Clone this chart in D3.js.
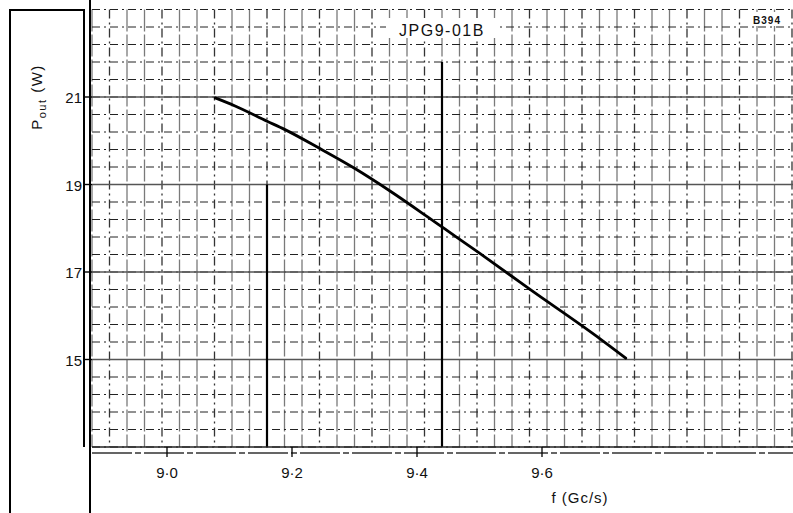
<!DOCTYPE html>
<html>
<head>
<meta charset="utf-8">
<script src="https://cdnjs.cloudflare.com/ajax/libs/d3/7.8.5/d3.min.js"></script>
<style>
  html, body { margin: 0; padding: 0; background: #fff; }
  svg { display: block; }
  text { font-family: "Liberation Sans", "DejaVu Sans", sans-serif; fill: #111; }
</style>
</head>
<body>
<svg id="chart" width="793" height="513"></svg>
<script>
// ---- data ----
const freqGHz = [9.077, 9.108, 9.161, 9.188, 9.246, 9.300, 9.358, 9.417, 9.444, 9.500, 9.550, 9.582, 9.662, 9.694, 9.734];
const poutW   = [20.98, 20.80, 20.44, 20.26, 19.81, 19.37, 18.84, 18.26, 17.99, 17.43, 16.92, 16.59, 15.79, 15.46, 15.03];
const xTicks = [9.0, 9.2, 9.4, 9.6];
const xTickLabels = ["9·0", "9·2", "9·4", "9·6"];
const yTicks = [15, 17, 19, 21];
const yTickLabels = ["15", "17", "19", "21"];
const titleText = "JPG9-01B";
const codeText = "B394";
const xTitle = "f (Gc/s)";

// ---- scales ----
const svg = d3.select("#chart");
const x = d3.scaleLinear().domain([9.0, 9.6]).range([167, 542]);
const y = d3.scaleLinear().domain([13, 23]).range([447, 9.5]);
// graph-paper grid: its own cell units (cell = 17.5 px), independent of the frequency scale
const g = d3.scaleLinear().domain([0, 40]).range([92, 792]);
const xRight = 793;

const grid = svg.append("g");
const vCells = d3.range(0, 41);
grid.selectAll("line.v").data(vCells).join("line")
  .attr("x1", d => g(d)).attr("x2", d => g(d))
  .attr("y1", y(23)).attr("y2", y(13))
  .attr("stroke", d => d % 3 === 1 ? "#333" : "#7a7a7a")
  .attr("stroke-width", 1.3)
  .attr("stroke-dasharray", d => d % 3 === 1 ? "9,4,2,4" : "22,3");

// horizontal fine grid every 0.4 W
const hLines = d3.range(0, 26).map(i => +(13 + i * 0.4).toFixed(2));
grid.selectAll("line.h").data(hLines).join("line")
  .attr("x1", g(0)).attr("x2", xRight)
  .attr("y1", d => y(d)).attr("y2", d => y(d))
  .attr("stroke", "#222")
  .attr("stroke-width", 1)
  .attr("stroke-dasharray", "8,4,2,4");

// major horizontal lines at labelled values
grid.selectAll("line.hm").data(yTicks).join("line")
  .attr("x1", g(0)).attr("x2", xRight)
  .attr("y1", d => y(d)).attr("y2", d => y(d))
  .attr("stroke", "#555").attr("stroke-width", 1.6);

// heavy vertical lines (grid cell index, top value in W)
const heavy = [[10, 19.0], [20, 21.8]];
grid.selectAll("line.hv").data(heavy).join("line")
  .attr("x1", d => g(d[0])).attr("x2", d => g(d[0]))
  .attr("y1", d => y(d[1])).attr("y2", y(13))
  .attr("stroke", "#000").attr("stroke-width", 2.2);

// bottom double line
svg.append("line").attr("x1", g(0)).attr("x2", xRight).attr("y1", y(13)).attr("y2", y(13))
  .attr("stroke", "#222").attr("stroke-width", 1.6);
svg.append("line").attr("x1", g(0)).attr("x2", xRight).attr("y1", y(13) + 6).attr("y2", y(13) + 6)
  .attr("stroke", "#333").attr("stroke-width", 1.4).attr("stroke-dasharray", "40,3,6,3");

// left panel box
svg.append("path").attr("d", "M10,513 L10,10 L84,10 L84,447")
  .attr("fill", "none").attr("stroke", "#000").attr("stroke-width", 2);
// y axis line
svg.append("line").attr("x1", 90).attr("x2", 90).attr("y1", 0).attr("y2", 513)
  .attr("stroke", "#000").attr("stroke-width", 2);

// y ticks + labels
svg.selectAll("line.yt").data(yTicks).join("line")
  .attr("x1", 84).attr("x2", 92).attr("y1", d => y(d)).attr("y2", d => y(d))
  .attr("stroke", "#000").attr("stroke-width", 1.4);
svg.selectAll("text.yl").data(yTicks).join("text")
  .attr("x", 82).attr("y", d => y(d) + 6)
  .attr("text-anchor", "end").attr("font-size", 15)
  .text((d, i) => yTickLabels[i]);

// x ticks + labels
svg.selectAll("line.xt").data(xTicks).join("line")
  .attr("x1", d => x(d)).attr("x2", d => x(d)).attr("y1", y(13)).attr("y2", y(13) + 10)
  .attr("stroke", "#000").attr("stroke-width", 1.3);
svg.selectAll("text.xl").data(xTicks).join("text")
  .attr("x", d => x(d)).attr("y", 478)
  .attr("text-anchor", "middle").attr("font-size", 15)
  .text((d, i) => xTickLabels[i]);

// axis titles
svg.append("text").attr("x", 580).attr("y", 503).attr("text-anchor", "middle")
  .attr("font-size", 15).attr("letter-spacing", 1).text(xTitle);
const yt = svg.append("text").attr("transform", "translate(42,97) rotate(-90)")
  .attr("text-anchor", "middle").attr("font-size", 15).attr("letter-spacing", 1.5);
yt.append("tspan").text("P");
yt.append("tspan").attr("font-size", 11).attr("dy", 4).text("out");
yt.append("tspan").attr("dy", -4).text(" (W)");

// chart title and code
svg.append("rect").attr("x", 386).attr("y", 18).attr("width", 112).attr("height", 20).attr("fill", "#fff");
svg.append("text").attr("x", 442).attr("y", 36).attr("text-anchor", "middle")
  .attr("font-size", 16).attr("letter-spacing", 1.5).text(titleText);
svg.append("rect").attr("x", 744).attr("y", 12).attr("width", 46).attr("height", 14).attr("fill", "#fff");
svg.append("text").attr("x", 767).attr("y", 24).attr("text-anchor", "middle")
  .attr("font-size", 10).attr("font-weight", "bold").attr("letter-spacing", 1).text(codeText);

// curve
const pts = freqGHz.map((f, i) => [f, poutW[i]]);
svg.append("path").datum(pts)
  .attr("fill", "none").attr("stroke", "#000").attr("stroke-width", 2.8)
  .attr("stroke-linecap", "round")
  .attr("d", d3.line().x(d => x(d[0])).y(d => y(d[1])).curve(d3.curveMonotoneX));
</script>
</body>
</html>
